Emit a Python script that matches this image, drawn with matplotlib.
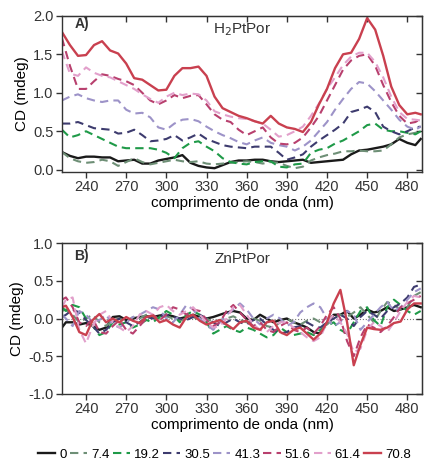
import matplotlib
matplotlib.use("Agg")
import matplotlib.pyplot as plt

plt.rcParams['font.family'] = ['Liberation Sans', 'DejaVu Sans']

# wavelength grids (nm)
wl_a = [222, 228, 234, 240, 246, 252, 258, 264, 270, 276, 282, 288, 294, 300, 306, 312,
        318, 324, 330, 336, 342, 348, 354, 360, 366, 372, 378, 384, 390, 396, 402, 408,
        414, 420, 426, 432, 438, 444, 450, 456, 462, 468, 474, 480, 486, 490]
wl_b = [222, 225, 230, 235, 240, 245, 250, 255, 260, 265, 270, 275, 280, 285, 290, 295,
        300, 305, 310, 315, 320, 325, 330, 335, 340, 345, 350, 355, 360, 365, 370, 375,
        380, 385, 390, 395, 400, 405, 410, 415, 420, 425, 430, 435, 440, 445, 450, 455,
        460, 465, 470, 475, 480, 485, 490]

labels = ['0', '7.4', '19.2', '30.5', '41.3', '51.6', '61.4', '70.8']
colors = ['#1a1a1a', '#6e8f76', '#1f9a48', '#3d3b6e', '#9d93c8', '#b8406e', '#e2a0cb', '#c9404f']
styles = ['-', '--', '--', '--', '--', '--', '--', '-']

# A) H2PtPor
a_0 = [0.23, 0.18, 0.15, 0.17, 0.17, 0.16, 0.16, 0.11, 0.12, 0.13, 0.08, 0.08, 0.12, 0.14, 0.16, 0.19,
       0.09, 0.05, 0.03, 0.02, 0.06, 0.10, 0.12, 0.12, 0.13, 0.13, 0.11, 0.10, 0.11, 0.12, 0.13, 0.09,
       0.10, 0.11, 0.12, 0.13, 0.20, 0.25, 0.26, 0.28, 0.30, 0.33, 0.40, 0.35, 0.32, 0.40]
a_7 = [0.23, 0.15, 0.11, 0.09, 0.10, 0.13, 0.11, 0.05, 0.10, 0.15, 0.10, 0.07, 0.09, 0.11, 0.13, 0.11,
       0.10, 0.11, 0.08, 0.07, 0.08, 0.09, 0.10, 0.11, 0.10, 0.08, 0.10, 0.09, 0.05, 0.02, 0.04, 0.12,
       0.16, 0.19, 0.21, 0.24, 0.24, 0.25, 0.24, 0.24, 0.25, 0.33, 0.42, 0.46, 0.48, 0.50]
a_19 = [0.52, 0.42, 0.45, 0.50, 0.45, 0.40, 0.35, 0.30, 0.28, 0.28, 0.28, 0.28, 0.26, 0.22, 0.15, 0.28,
        0.35, 0.37, 0.30, 0.24, 0.15, 0.10, 0.08, 0.07, 0.10, 0.11, 0.11, 0.04, 0.03, 0.07, 0.08, 0.22,
        0.26, 0.28, 0.34, 0.38, 0.44, 0.50, 0.58, 0.60, 0.52, 0.50, 0.50, 0.48, 0.46, 0.50]
a_30 = [0.60, 0.60, 0.62, 0.58, 0.54, 0.53, 0.52, 0.47, 0.48, 0.52, 0.45, 0.37, 0.38, 0.40, 0.45, 0.38,
        0.42, 0.47, 0.40, 0.36, 0.32, 0.30, 0.29, 0.28, 0.30, 0.30, 0.30, 0.22, 0.13, 0.16, 0.20, 0.30,
        0.38, 0.45, 0.52, 0.60, 0.75, 0.78, 0.82, 0.75, 0.56, 0.50, 0.46, 0.50, 0.55, 0.56]
a_41 = [0.90, 0.95, 0.98, 0.93, 0.90, 0.88, 0.90, 0.90, 0.78, 0.73, 0.74, 0.68, 0.55, 0.52, 0.60, 0.65,
        0.66, 0.63, 0.56, 0.50, 0.45, 0.41, 0.36, 0.33, 0.38, 0.42, 0.35, 0.32, 0.30, 0.25, 0.30, 0.38,
        0.50, 0.62, 0.78, 0.92, 1.05, 1.14, 1.12, 1.02, 0.90, 0.78, 0.65, 0.56, 0.52, 0.56]
a_51 = [1.71, 1.35, 1.05, 1.05, 1.15, 1.24, 1.22, 1.18, 1.15, 1.10, 1.00, 0.90, 0.85, 0.90, 0.97, 0.93,
        0.96, 0.97, 0.85, 0.72, 0.65, 0.62, 0.52, 0.45, 0.50, 0.55, 0.42, 0.34, 0.33, 0.35, 0.42, 0.55,
        0.70, 0.90, 1.10, 1.30, 1.42, 1.48, 1.50, 1.35, 1.10, 0.88, 0.70, 0.60, 0.62, 0.66]
a_61 = [1.54, 1.25, 1.22, 1.33, 1.26, 1.22, 1.20, 1.15, 1.10, 1.05, 0.98, 0.92, 0.87, 0.95, 1.00, 0.97,
        0.99, 0.98, 0.90, 0.76, 0.72, 0.69, 0.67, 0.66, 0.63, 0.60, 0.52, 0.43, 0.45, 0.50, 0.56, 0.70,
        0.86, 1.05, 1.20, 1.36, 1.47, 1.52, 1.52, 1.40, 1.20, 0.95, 0.75, 0.66, 0.65, 0.64]
a_70 = [1.79, 1.62, 1.48, 1.49, 1.62, 1.67, 1.55, 1.51, 1.38, 1.19, 1.17, 1.10, 1.03, 1.04, 1.22, 1.32,
        1.32, 1.34, 1.22, 0.95, 0.80, 0.75, 0.70, 0.67, 0.63, 0.60, 0.70, 0.60, 0.55, 0.53, 0.49, 0.62,
        0.85, 1.05, 1.32, 1.50, 1.52, 1.70, 1.97, 1.82, 1.48, 1.08, 0.84, 0.72, 0.74, 0.72]

# B) ZnPtPor
b_0 = [-0.12, -0.05, -0.05, -0.08, -0.06, -0.10, -0.15, -0.12, 0.02, 0.03, -0.02, 0.00, 0.02, 0.03,
       0.02, 0.04, 0.05, 0.03, 0.00, 0.02, 0.05, 0.02, 0.00, 0.02, 0.05, 0.08, 0.10, 0.08, 0.00, -0.02,
       0.05, 0.00, -0.05, -0.02, 0.00, -0.05, -0.08, -0.12, -0.18, -0.20, -0.05, 0.05, 0.05, 0.10, 0.00,
       0.05, 0.12, 0.08, 0.10, 0.15, 0.10, 0.12, 0.15, 0.18, 0.15]
b_7 = [0.10, 0.12, 0.05, -0.05, 0.00, 0.05, -0.05, -0.10, -0.02, 0.00, -0.05, 0.02, 0.00, 0.05, 0.02,
       0.00, 0.03, 0.00, -0.03, 0.00, 0.02, -0.02, 0.00, -0.05, -0.02, 0.00, 0.03, -0.02, -0.05, 0.00,
       -0.03, -0.10, -0.12, -0.05, 0.00, -0.05, -0.08, -0.03, 0.00, -0.05, -0.08, 0.00, 0.05, 0.02, 0.08,
       0.15, 0.05, -0.05, 0.10, 0.22, 0.18, 0.12, 0.15, 0.30, 0.35]
b_19 = [0.15, 0.10, 0.18, 0.15, 0.00, -0.10, -0.22, -0.18, -0.05, -0.08, -0.05, -0.12, -0.08, -0.02,
        -0.05, 0.02, 0.10, 0.05, -0.05, 0.05, 0.10, 0.05, -0.05, -0.20, -0.15, -0.10, -0.15, -0.18, -0.12,
        -0.15, -0.20, -0.25, -0.22, -0.12, -0.18, -0.22, -0.20, -0.18, -0.22, -0.15, -0.10, -0.05, -0.15,
        -0.20, -0.05, 0.10, 0.15, -0.02, -0.10, 0.15, 0.25, 0.18, 0.10, 0.05, 0.10]
b_30 = [0.02, 0.05, 0.12, 0.08, -0.02, -0.10, -0.20, -0.15, -0.05, 0.00, -0.05, -0.10, -0.05, 0.02,
        0.00, 0.03, 0.05, 0.02, 0.00, -0.02, 0.02, 0.05, 0.00, -0.05, -0.10, -0.05, 0.00, -0.05, -0.08,
        -0.02, 0.00, -0.08, -0.15, -0.20, -0.18, -0.12, -0.10, -0.05, -0.10, -0.12, -0.05, 0.00, 0.05,
        0.00, -0.10, 0.02, 0.10, 0.05, 0.00, 0.10, 0.15, 0.20, 0.28, 0.42, 0.45]
b_41 = [0.05, 0.00, -0.10, 0.10, 0.05, -0.05, -0.02, 0.05, -0.08, -0.12, -0.05, 0.02, 0.05, 0.10, 0.15,
        0.12, 0.00, -0.05, 0.05, 0.18, 0.12, 0.00, -0.08, -0.15, -0.05, 0.05, 0.12, 0.20, 0.12, 0.00,
        -0.08, 0.00, 0.05, 0.00, -0.10, -0.05, 0.08, 0.15, 0.20, 0.15, 0.00, -0.10, -0.05, 0.10, 0.05,
        -0.15, -0.05, 0.05, 0.15, 0.22, 0.10, 0.15, 0.25, 0.35, 0.40]
b_51 = [0.25, 0.28, 0.15, -0.05, -0.10, 0.00, -0.18, -0.20, -0.10, -0.02, -0.15, -0.20, -0.10, 0.00,
        0.05, -0.02, 0.05, 0.15, 0.12, 0.05, 0.12, 0.10, -0.02, -0.10, -0.05, 0.10, 0.18, 0.08, -0.02,
        -0.10, -0.05, -0.15, -0.18, -0.10, -0.05, -0.15, -0.18, -0.12, -0.20, -0.10, 0.05, 0.15, 0.00,
        -0.30, -0.50, -0.25, -0.08, -0.12, -0.18, -0.10, 0.02, 0.15, 0.20, 0.25, 0.30]
b_61 = [0.15, 0.25, 0.28, -0.15, -0.33, -0.10, 0.05, 0.10, -0.05, -0.12, -0.18, -0.10, 0.05, 0.10,
        0.05, 0.15, 0.18, 0.10, 0.05, 0.10, 0.15, 0.05, -0.05, -0.12, -0.10, 0.00, 0.15, 0.18, 0.05,
        -0.08, -0.15, -0.18, -0.10, -0.05, -0.05, -0.12, -0.18, -0.25, -0.30, -0.25, -0.05, 0.05, -0.05,
        -0.20, -0.45, -0.40, -0.15, -0.05, -0.10, -0.18, -0.05, 0.10, 0.22, 0.30, 0.28]
b_70 = [0.15, 0.17, 0.02, -0.18, -0.22, -0.02, 0.06, -0.05, 0.00, -0.05, 0.02, -0.03, -0.06, 0.02,
        0.04, -0.05, -0.02, -0.08, -0.12, 0.02, 0.05, -0.03, -0.08, -0.05, -0.02, -0.08, -0.14, -0.05,
        -0.03, -0.12, -0.15, -0.05, -0.03, -0.18, -0.22, -0.15, -0.12, -0.20, -0.28, -0.20, -0.05, 0.20,
        0.38, -0.05, -0.62, -0.35, -0.12, -0.14, -0.15, -0.12, -0.06, -0.04, 0.12, 0.20, 0.20]

series_a = [a_0, a_7, a_19, a_30, a_41, a_51, a_61, a_70]
series_b = [b_0, b_7, b_19, b_30, b_41, b_51, b_61, b_70]

fig = plt.figure(figsize=(4.36, 4.65), dpi=100)
ax1 = fig.add_axes([0.142, 0.630, 0.826, 0.336])
ax2 = fig.add_axes([0.142, 0.153, 0.826, 0.324])

xticks = [240, 270, 300, 330, 360, 390, 420, 450, 480]


def style_axes(ax, ylim, yticks, ylabels, zero_line):
    ax.set_xlim(222, 491)
    ax.set_ylim(*ylim)
    ax.set_xticks(xticks)
    ax.set_yticks(yticks)
    ax.set_yticklabels(ylabels)
    ax.tick_params(direction='out', length=4, width=1, labelsize=10.5, colors='#333333', pad=2)
    for s in ax.spines.values():
        s.set_color('#333333')
        s.set_linewidth(1)
    top = ax.secondary_xaxis('top')
    top.set_xticks(xticks)
    top.tick_params(direction='in', length=4, width=1, labeltop=False, colors='#333333')
    right = ax.secondary_yaxis('right')
    right.set_yticks(yticks)
    right.tick_params(direction='in', length=4, width=1, labelright=False, colors='#333333')
    if zero_line:
        ax.axhline(0, color='#777777', lw=0.8, ls=':', zorder=0)
    ax.set_xlabel('comprimento de onda (nm)', fontsize=11, labelpad=1)
    ax.set_ylabel('CD (mdeg)', fontsize=11, labelpad=3)


handles = []
for y, c, ls, lab in zip(series_a, colors, styles, labels):
    lw = 1.7 if ls == '-' else 1.5
    if ls == '--':
        h, = ax1.plot(wl_a, y, color=c, lw=lw, dashes=(4, 2.5), label=lab)
    else:
        h, = ax1.plot(wl_a, y, color=c, lw=lw, label=lab)
    handles.append(h)
for y, c, ls in zip(series_b, colors, styles):
    lw = 1.7 if ls == '-' else 1.5
    if ls == '--':
        ax2.plot(wl_b, y, color=c, lw=lw, dashes=(4, 2.5))
    else:
        ax2.plot(wl_b, y, color=c, lw=lw)

style_axes(ax1, (-0.03, 2.0), [0.0, 0.5, 1.0, 1.5, 2.0], ['0.0', '0.5', '1.0', '1.5', '2.0'], False)
style_axes(ax2, (-1.0, 1.0), [-1.0, -0.5, 0.0, 0.5, 1.0], ['-1.0', '-0.5', '0.0', '0.5', '1.0'], True)

ax1.text(0.035, 0.92, 'A)', transform=ax1.transAxes, fontsize=10, fontweight='bold', color='#333333')
ax1.text(0.5, 0.89, 'H$_2$PtPor', transform=ax1.transAxes, fontsize=11, color='#333333', ha='center')
ax2.text(0.035, 0.89, 'B)', transform=ax2.transAxes, fontsize=10, fontweight='bold', color='#333333')
ax2.text(0.5, 0.87, 'ZnPtPor', transform=ax2.transAxes, fontsize=11, color='#333333', ha='center')

fig.legend(handles=handles, labels=labels, loc='center', bbox_to_anchor=(0.515, 0.022), ncol=8,
           frameon=False, fontsize=9.5, handlelength=1.3, handletextpad=0.3, columnspacing=0.25)

fig.savefig('out.png', dpi=100)
